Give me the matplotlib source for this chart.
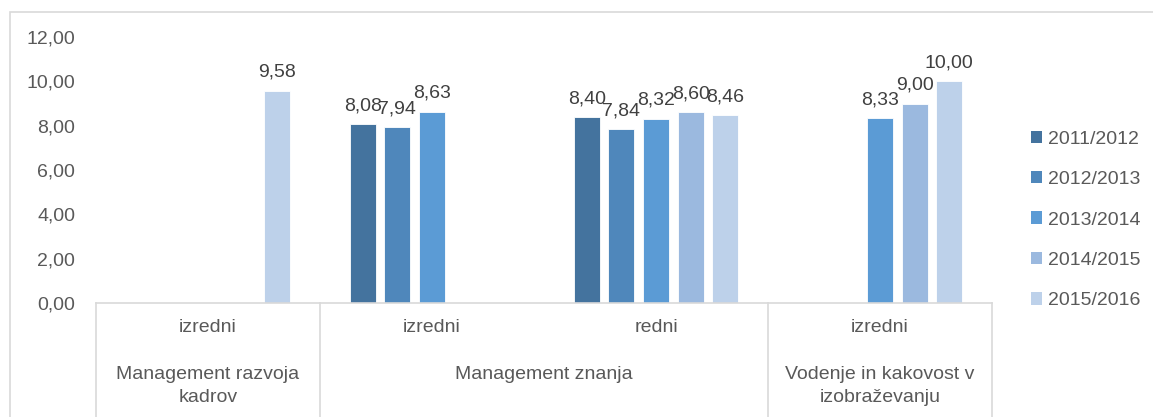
import numpy as np
import matplotlib
matplotlib.use("Agg")
import matplotlib.pyplot as plt
from matplotlib.patches import Patch, Rectangle

plt.rcParams["font.family"] = ["Liberation Sans", "DejaVu Sans"]

# categories: (inner level, outer level)
inner = ["izredni", "izredni", "redni", "izredni"]
outer = ["Management razvoja\nkadrov", "Management znanja", "Vodenje in kakovost v\nizobraževanju"]
outer_span = [(0, 0), (1, 2), (3, 3)]

years = ["2011/2012", "2012/2013", "2013/2014", "2014/2015", "2015/2016"]
v2011 = [np.nan, 8.08, 8.40, np.nan]
v2012 = [np.nan, 7.94, 7.84, np.nan]
v2013 = [np.nan, 8.63, 8.32, 8.33]
v2014 = [np.nan, np.nan, 8.60, 9.00]
v2015 = [9.58, np.nan, 8.46, 10.00]
series = [v2011, v2012, v2013, v2014, v2015]
colors = ["#44739E", "#4F87BB", "#5B9BD5", "#9BB9DF", "#BDD1EA"]

TXT = "#595959"
LINE = "#D9D9D9"
FS = 14

W, H = 1153, 417
fig = plt.figure(figsize=(W / 100, H / 100), dpi=100)
# plot area in pixels: x 96..992, y 37..303
x0, x1, ytop, ybot = 96, 992, 37, 303
ax = fig.add_axes([x0 / W, 1 - ybot / H, (x1 - x0) / W, (ybot - ytop) / H])

# chart border
fig.add_artist(Rectangle((10 / W, -0.1), 1.2, 1 - 12 / H + 0.1, transform=fig.transFigure,
                         fill=False, edgecolor=LINE, lw=1.2))

x = np.arange(len(inner))
step, width = 0.1545, 0.116
for i, (vals, c, yr) in enumerate(zip(series, colors, years)):
    pos = x + (i - 2) * step
    vals = np.array(vals)
    ax.bar(pos, vals, width, color=c, edgecolor="white", lw=0.6, label=yr)
    for p, v in zip(pos, vals):
        if np.isnan(v):
            continue
        ax.annotate(f"{v:.2f}".replace(".", ","), (p, v), xytext=(0, 7),
                    textcoords="offset points", ha="center", va="bottom",
                    fontsize=FS, color="#404040")

ax.set_xlim(-0.5, len(inner) - 0.5)
ax.set_ylim(0, 12)
ax.set_yticks(np.arange(0, 13, 2))
ax.set_yticklabels([f"{t:.2f}".replace(".", ",") for t in np.arange(0, 13, 2)])
ax.tick_params(axis="y", length=0, pad=15, labelsize=FS, labelcolor=TXT)
ax.set_xticks([])
for s in ["top", "right", "left"]:
    ax.spines[s].set_visible(False)
ax.spines["bottom"].set_color(LINE)
ax.spines["bottom"].set_linewidth(1.2)


def yfrac(ypix):
    # pixel row -> axes fraction
    return (ybot - ypix) / (ybot - ytop)


trans = ax.get_xaxis_transform()
for b in [-0.5, 0.5, 2.5, 3.5]:
    ax.plot([b, b], [0, yfrac(425)], color=LINE, lw=1.2, transform=trans, clip_on=False)
for xi, lab in zip(x, inner):
    ax.text(xi, yfrac(327), lab, transform=trans, ha="center", va="center",
            fontsize=FS, color=TXT)
for (a, b), lab in zip(outer_span, outer):
    ax.text((a + b) / 2, yfrac(366), lab, transform=trans, ha="center", va="top",
            fontsize=FS, color=TXT, linespacing=1.45)

handles = [Patch(facecolor=c, label=yr) for c, yr in zip(colors, years)]
fig.legend(handles=handles, loc="center left", bbox_to_anchor=(1021 / W, 1 - 220 / H),
           frameon=False, fontsize=FS, labelcolor=TXT, handlelength=0.6,
           handleheight=0.6, handletextpad=0.3, labelspacing=1.2, borderpad=0)

fig.savefig("out.png", dpi=100)
